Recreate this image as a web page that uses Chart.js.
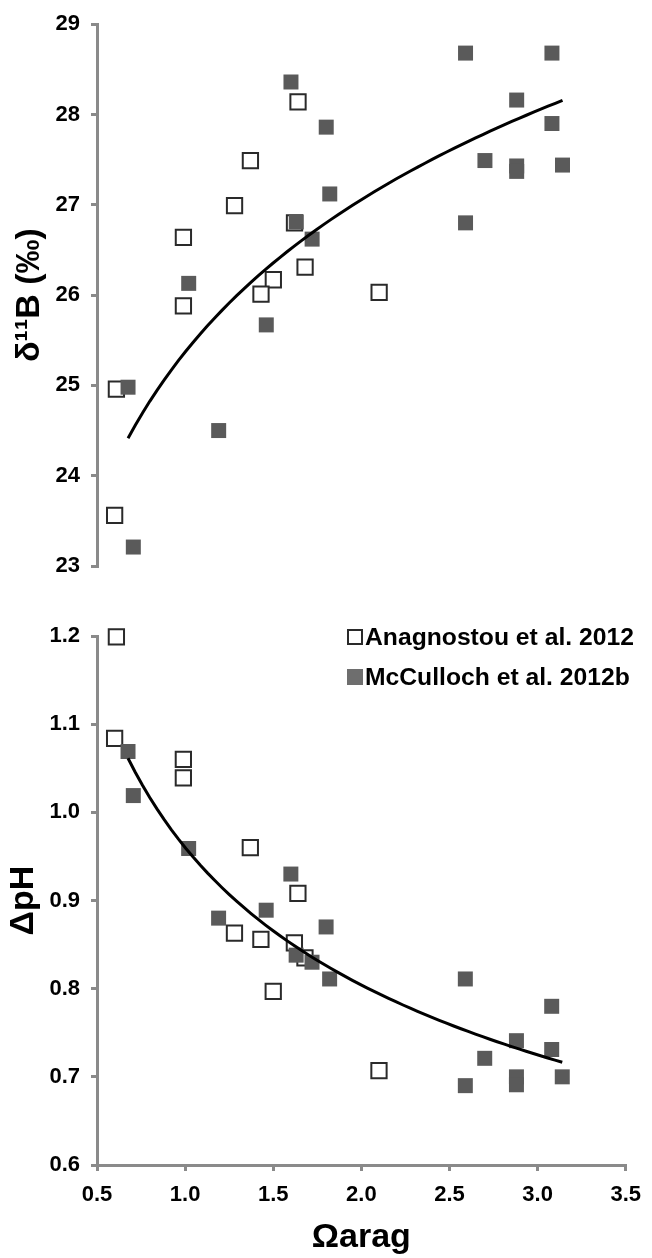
<!DOCTYPE html>
<html>
<head>
<meta charset="utf-8">
<script src="https://cdn.jsdelivr.net/npm/chart.js@4.4.1/dist/chart.umd.min.js"></script>
<style>
  body { margin: 0; background: #fff; }
  canvas { display: block; }
</style>
</head>
<body>
<canvas id="topChart" width="652" height="600"></canvas>
<canvas id="bottomChart" width="652" height="658"></canvas>
<script>
// Anagnostou et al. 2012 (open squares)
const anaOmega = [0.60, 0.61, 0.99, 0.99, 1.37, 1.28, 1.64, 1.62, 1.68, 1.50, 1.43, 2.10];
const anaD11B  = [23.56, 24.96, 26.64, 25.88, 27.49, 26.99, 28.14, 26.80, 26.31, 26.17, 26.01, 26.03];
const anaDpH   = [1.084, 1.199, 1.060, 1.039, 0.960, 0.863, 0.908, 0.852, 0.835, 0.797, 0.856, 0.707];

// McCulloch et al. 2012b (filled squares)
const mccOmega = [1.60, 1.80, 1.82, 1.63, 1.72, 1.02, 1.46, 0.676, 1.19, 0.706, 2.59, 3.08, 2.88, 3.08, 2.70, 2.88, 2.88, 3.14, 2.59];
const mccD11B  = [28.36, 27.86, 27.12, 26.81, 26.62, 26.13, 25.67, 24.98, 24.50, 23.21, 28.68, 28.68, 28.16, 27.90, 27.49, 27.43, 27.37, 27.44, 26.80];
const mccDpH   = [0.930, 0.870, 0.811, 0.838, 0.830, 0.959, 0.889, 1.069, 0.880, 1.019, 0.811, 0.780, 0.741, 0.731, 0.721, 0.700, 0.691, 0.700, 0.690];

const xTicks = [0.5, 1.0, 1.5, 2.0, 2.5, 3.0, 3.5];
const d11BTicks = [23, 24, 25, 26, 27, 28, 29];
const dpHTicks = [0.6, 0.7, 0.8, 0.9, 1.0, 1.1, 1.2];

const FONT = '"Liberation Sans", Arial, Helvetica, sans-serif';
const AXIS_GRAY = '#8a8a8a';
const FILL_GRAY = '#5a5a5a';

function toPoints(xs, ys) {
    return xs.map((x, i) => ({ x: x, y: ys[i] }));
}

// least squares fit of y = a + b*ln(x) (Excel "logarithmic" trendline)
function logFit(xs, ys) {
    const lx = xs.map(Math.log);
    const n = xs.length;
    const mx = lx.reduce((s, v) => s + v, 0) / n;
    const my = ys.reduce((s, v) => s + v, 0) / n;
    let sxy = 0, sxx = 0;
    lx.forEach((v, i) => { sxy += (v - mx) * (ys[i] - my); sxx += (v - mx) * (v - mx); });
    const b = sxy / sxx;
    const a = my - b * mx;
    return x => a + b * Math.log(x);
}

// least squares fit of y = a*x^b (Excel "power" trendline)
function powerFit(xs, ys) {
    const f = logFit(xs, ys.map(Math.log));
    return x => Math.exp(f(x));
}

function trendPoints(xs, fn) {
    const lo = Math.min(...xs), hi = Math.max(...xs);
    const pts = [];
    for (let i = 0; i <= 60; i++) {
        const x = lo + (hi - lo) * i / 60;
        pts.push({ x: x, y: fn(x) });
    }
    return pts;
}

function datasets(anaY, mccY, fit) {
    return [
        {
            label: 'trend',
            type: 'line',
            data: trendPoints(mccOmega, fit(mccOmega, mccY)),
            borderColor: '#000',
            borderWidth: 3,
            pointRadius: 0,
            fill: false,
            tension: 0,
            clip: false,
            order: 0
        },
        {
            label: 'McCulloch et al. 2012b',
            data: toPoints(mccOmega, mccY),
            pointStyle: 'rect',
            pointRadius: 10.6,
            backgroundColor: FILL_GRAY,
            borderColor: FILL_GRAY,
            borderWidth: 0,
            clip: false,
            order: 1
        },
        {
            label: 'Anagnostou et al. 2012',
            data: toPoints(anaOmega, anaY),
            pointStyle: 'rect',
            pointRadius: 10.8,
            backgroundColor: '#fff',
            borderColor: '#2a2a2a',
            borderWidth: 2,
            clip: false,
            order: 2
        }
    ];
}

const gridOpts = { drawOnChartArea: false, drawTicks: true, tickLength: 6, color: AXIS_GRAY, lineWidth: 3 };
const borderOpts = { display: true, color: AXIS_GRAY, width: 3 };
const tickFont = { family: FONT, size: 22, weight: 'bold' };
const titleFont = { family: FONT, size: 34, weight: 'bold' };

// legend drawn inside the lower plot
const boxLegend = {
    id: 'boxLegend',
    afterDraw(chart, args, opts) {
        if (!opts.show) return;
        const ctx = chart.ctx;
        ctx.save();
        ctx.font = 'bold 24.7px ' + FONT;
        ctx.textBaseline = 'middle';
        ctx.fillStyle = '#000';
        const items = [chart.data.datasets[2], chart.data.datasets[1]];
        items.forEach((ds, i) => {
            const y = opts.y + i * 40;
            if (ds.backgroundColor === '#fff') {
                ctx.strokeStyle = ds.borderColor;
                ctx.lineWidth = 2;
                ctx.strokeRect(opts.x + 1, y - 7, 14, 14);
            } else {
                ctx.fillStyle = '#6e6e6e';
                ctx.fillRect(opts.x, y - 8, 16, 16);
            }
            ctx.fillStyle = '#000';
            ctx.fillText(ds.label, opts.x + 18, y + 1);
        });
        ctx.restore();
    }
};

function makeChart(id, anaY, mccY, fit, yMin, yMax, yStep, yTitle, yTitlePad, showX, pad) {
    return new Chart(document.getElementById(id), {
        type: 'scatter',
        data: { datasets: datasets(anaY, mccY, fit) },
        options: {
            responsive: false,
            animation: false,
            devicePixelRatio: 1,
            layout: { padding: pad },
            plugins: {
                legend: { display: false },
                tooltip: { enabled: false },
                boxLegend: { show: showX, x: 347, y: 37 }
            },
            scales: {
                x: {
                    type: 'linear',
                    display: showX,
                    min: xTicks[0],
                    max: xTicks[xTicks.length - 1],
                    afterBuildTicks: s => { s.ticks = xTicks.map(v => ({ value: v })); },
                    ticks: { font: tickFont, color: '#000', padding: 11, callback: v => v.toFixed(1) },
                    grid: gridOpts,
                    border: borderOpts,
                    title: { display: true, text: 'Ωarag', font: titleFont, color: '#000', padding: { top: 0, bottom: 0 } },
                    afterFit: s => { if (showX) s.height = 93; }
                },
                y: {
                    type: 'linear',
                    min: yMin,
                    max: yMax,
                    afterBuildTicks: s => { s.ticks = yStep.map(v => ({ value: v })); },
                    ticks: {
                        font: tickFont, color: '#000', padding: 11,
                        callback: v => yMax < 5 ? v.toFixed(1) : String(v)
                    },
                    grid: gridOpts,
                    border: borderOpts,
                    title: { display: true, text: yTitle, font: titleFont, color: '#000', padding: { top: yTitlePad, bottom: 0 } },
                    afterFit: s => { s.width = 97; }
                }
            }
        },
        plugins: [boxLegend]
    });
}

makeChart('topChart', anaD11B, mccD11B, logFit, 23, 29, d11BTicks, 'δ¹¹B (‰)', 9, false,
    { top: 21, right: 26, bottom: 34, left: 0 });
makeChart('bottomChart', anaDpH, mccDpH, powerFit, 0.6, 1.2, dpHTicks, 'ΔpH', 3, true,
    { top: 36, right: 26, bottom: 0, left: 0 });
</script>
</body>
</html>
